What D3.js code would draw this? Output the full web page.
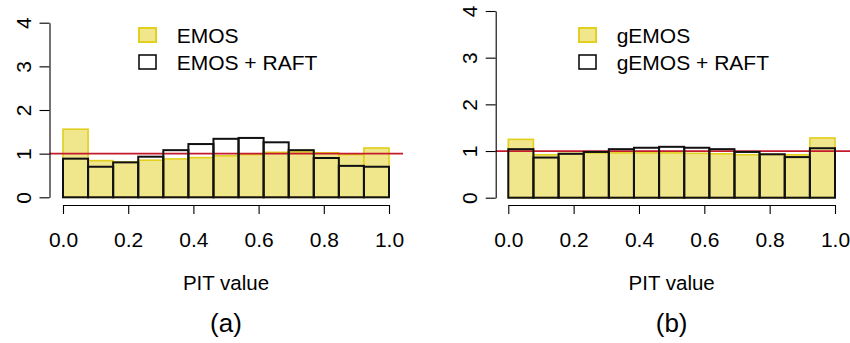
<!DOCTYPE html>
<html>
<head>
<meta charset="utf-8">
<script src="https://cdn.jsdelivr.net/npm/d3@7"></script>
<style>
  body { margin: 0; background: #fff; }
  svg { display: block; }
  text { font-family: "Liberation Sans", Arial, Helvetica, sans-serif; fill: #000; }
  .axis path, .axis line { stroke: #000; stroke-width: 1.1; }
</style>
</head>
<body>
<div id="chart"></div>
<script>
// PIT histogram densities, 13 equal bins on [0, 1]
var nBins = 13;
var binEdges = d3.range(nBins + 1).map(function (i) { return i / nBins; });

var emos      = [1.56, 0.84, 0.81, 0.85, 0.88, 0.91, 0.95, 0.98, 1.03, 1.04, 1.02, 0.98, 1.13];
var emosRaft  = [0.885, 0.70, 0.80, 0.93, 1.08, 1.22, 1.34, 1.36, 1.26, 1.08, 0.90, 0.72, 0.70];
var gemos     = [1.25, 0.92, 0.95, 0.96, 0.96, 0.96, 0.96, 0.95, 0.94, 0.92, 0.93, 0.92, 1.28];
var gemosRaft = [1.04, 0.86, 0.94, 0.98, 1.04, 1.07, 1.09, 1.07, 1.04, 0.98, 0.93, 0.87, 1.06];

var xTicks = [0, 0.2, 0.4, 0.6, 0.8, 1.0];
var yTicks = [0, 1, 2, 3, 4];
var xLabel = "PIT value";

var panels = [
  {name: "(a)", base: emos, raft: emosRaft, legend: ["EMOS", "EMOS + RAFT"],
   x0: 63, x1: 389, y0: 197.3, y4: 22.7, left: 49.5, right: 403, legX: 139},
  {name: "(b)", base: gemos, raft: gemosRaft, legend: ["gEMOS", "gEMOS + RAFT"],
   x0: 508.3, x1: 835, y0: 197.7, y4: 11, left: 495.7, right: 850, legX: 579}
];

var W = 850, H = 343;
var svg = d3.select("#chart").append("svg")
    .attr("width", W)
    .attr("height", H);

panels.forEach(function (p) {
  var x = d3.scaleLinear().domain([0, 1]).range([p.x0, p.x1]);
  var y = d3.scaleLinear().domain([0, 4]).range([p.y0, p.y4]);
  var g = svg.append("g");

  var bins = p.base.map(function (v, i) {
    return {lo: binEdges[i], hi: binEdges[i + 1], base: v, raft: p.raft[i]};
  });

  // yellow histogram
  g.selectAll(".baseBar")
    .data(bins)
    .enter().append("rect")
    .attr("class", "baseBar")
    .attr("x", function (d) { return x(d.lo); })
    .attr("y", function (d) { return y(d.base); })
    .attr("width", function (d) { return x(d.hi) - x(d.lo); })
    .attr("height", function (d) { return y(0) - y(d.base); })
    .style("fill", "#f0e68c")
    .style("stroke", "#e2cf1e")
    .style("stroke-width", 1.6);

  // red reference line at density 1
  g.append("line")
    .attr("x1", p.left).attr("x2", p.right)
    .attr("y1", y(1)).attr("y2", y(1))
    .style("stroke", "#c41a2c")
    .style("stroke-width", 1.7);

  // RAFT histogram, outline only
  g.selectAll(".raftBar")
    .data(bins)
    .enter().append("rect")
    .attr("class", "raftBar")
    .attr("x", function (d) { return x(d.lo); })
    .attr("y", function (d) { return y(d.raft); })
    .attr("width", function (d) { return x(d.hi) - x(d.lo); })
    .attr("height", function (d) { return y(0) - y(d.raft); })
    .style("fill", "none")
    .style("stroke", "#111")
    .style("stroke-width", 2);

  // axes
  var xAxis = g.append("g")
    .attr("class", "axis")
    .attr("transform", "translate(0,205)")
    .call(d3.axisBottom(x).tickValues(xTicks).tickSize(9).tickSizeOuter(0)
      .tickFormat(d3.format(".1f")));
  xAxis.selectAll("text")
    .attr("y", 0)
    .attr("dy", 41.5)
    .style("font-size", "21px");

  var yAxis = g.append("g")
    .attr("class", "axis")
    .attr("transform", "translate(" + p.left + ",0)")
    .call(d3.axisLeft(y).tickValues(yTicks).tickSize(10).tickSizeOuter(0)
      .tickFormat(d3.format("d")));
  yAxis.selectAll("text")
    .attr("x", null)
    .attr("dy", null)
    .attr("text-anchor", "middle")
    .attr("transform", "translate(-19,0) rotate(-90)")
    .style("font-size", "21px");
  g.selectAll(".axis").attr("font-family", null).attr("font-size", null);

  // legend
  var legend = g.selectAll(".legend")
    .data(p.legend)
    .enter().append("g")
    .attr("class", "legend")
    .attr("transform", function (d, i) { return "translate(" + p.legX + "," + (28 + i * 27) + ")"; });

  legend.append("rect")
    .attr("x", 0).attr("y", 0)
    .attr("width", 17).attr("height", 14)
    .style("fill", function (d, i) { return i === 0 ? "#f0e68c" : "#fff"; })
    .style("stroke", function (d, i) { return i === 0 ? "#e2cf1e" : "#000"; })
    .style("stroke-width", function (d, i) { return i === 0 ? 2 : 1.5; });

  legend.append("text")
    .attr("x", 37.7)
    .attr("y", 14.5)
    .style("font-size", "21px")
    .text(function (d) { return d; });

  // x label and panel tag
  var mid = (p.x0 + p.x1) / 2;
  g.append("text")
    .attr("x", mid).attr("y", 289.5)
    .attr("text-anchor", "middle")
    .style("font-size", "20.5px")
    .text(xLabel);

  g.append("text")
    .attr("x", mid).attr("y", 332)
    .attr("text-anchor", "middle")
    .style("font-size", "26px")
    .text(p.name);
});
</script>
</body>
</html>
